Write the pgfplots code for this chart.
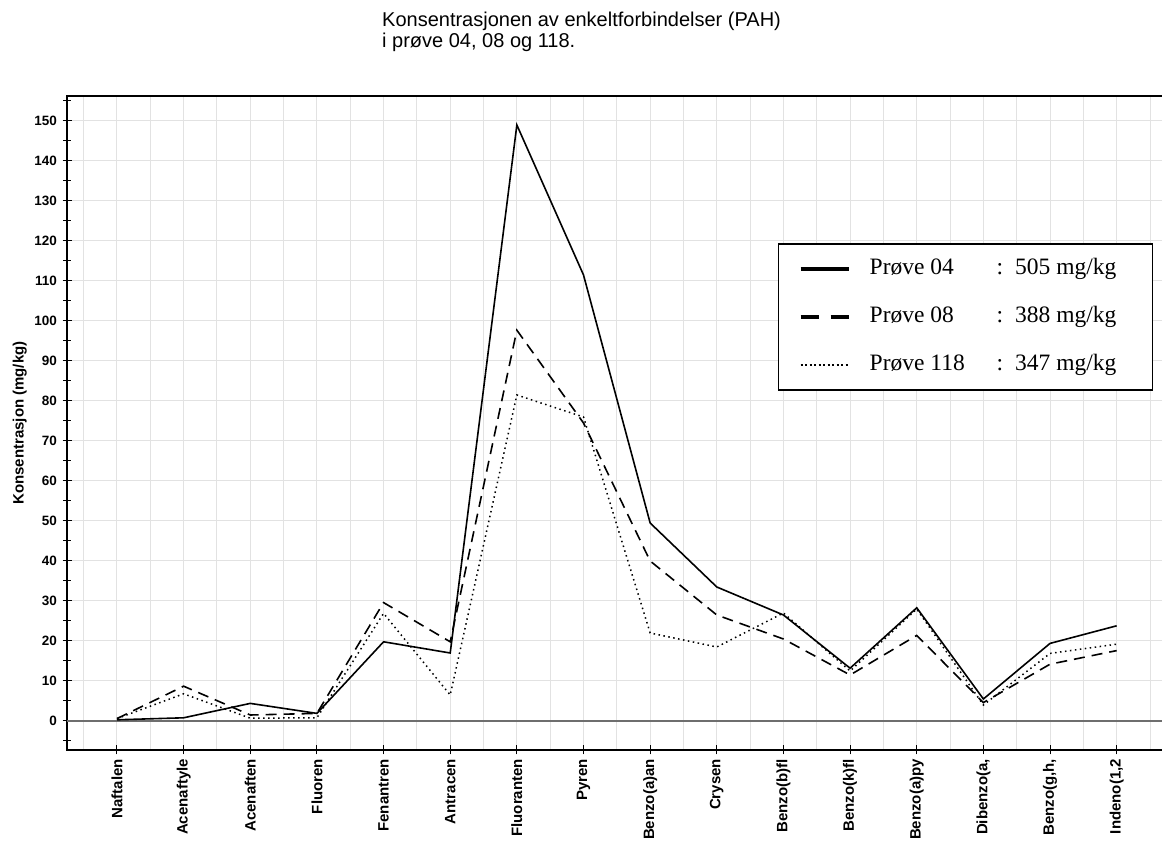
\documentclass[border=0pt]{standalone}
\usepackage{pgfplots}
\pgfplotsset{compat=1.18}
\usepackage{fontspec}
\setmainfont{Liberation Sans}
\newfontfamily\serif{Liberation Serif}
\definecolor{gridc}{RGB}{226,226,226}
\definecolor{zeroc}{RGB}{110,110,110}
\begin{document}
\begin{tikzpicture}
\useasboundingbox (0,0) rectangle (1162pt,843pt);
\node[anchor=base west,inner sep=0pt,font=\fontsize{20}{22}\selectfont] at (382pt,816pt) {Konsentrasjonen av enkeltforbindelser (PAH)};
\node[anchor=base west,inner sep=0pt,font=\fontsize{20}{22}\selectfont] at (382pt,795pt) {i prøve 04, 08 og 118.};
\begin{axis}[
  at={(67pt,93pt)}, anchor=south west,
  scale only axis, width=1096pt, height=654pt,
  xmin=-0.75, xmax=15.695, ymin=-7.25, ymax=156.25,
  xtick={0,...,15},
  xticklabels={{Naftalen},{Acenaftyle},{Acenaften},{Fluoren},{Fenantren},{Antracen},{Fluoranten},{Pyren},{Benzo(a)an},{Crysen},{Benzo(b)fl},{Benzo(k)fl},{Benzo(a)py},{Dibenzo(a,},{Benzo(g,h,},{Indeno(1,2}},
  minor xtick={-0.5,0.5,...,15.5},
  ytick={0,10,...,150},
  minor ytick={-5,5,...,155},
  xtick pos=bottom, ytick pos=left,
  xmajorgrids, xminorgrids, ymajorgrids,
  major grid style={gridc, line width=1pt},
  minor grid style={gridc, line width=1pt},
  minor x tick style={draw=none},
  tick align=center,
  major tick length=9pt, minor tick length=8pt,
  tick style={black, line width=1pt},
  axis line style={black, line width=1.2pt},
  /pgf/number format/assume math mode=true,
  yticklabel style={font=\fontsize{13.5}{15}\selectfont\bfseries, xshift=-2pt},
  xticklabel style={font=\fontsize{15}{17}\selectfont\bfseries, rotate=90, anchor=east, xshift=-1pt},
  ylabel={Konsentrasjon (mg/kg)},
  ylabel style={font=\fontsize{15}{17}\selectfont\bfseries, at={(axis description cs:-0.043,0.5)}, anchor=center},
  legend style={at={(axis description cs:0.6487,0.775)}, anchor=north west, draw=black, line width=1.5pt,
    font=\serif\fontsize{23.5}{26}\selectfont, inner xsep=20pt, inner ysep=14pt, row sep=26pt,
    nodes={inner sep=0pt, text height=17pt, text depth=5pt}},
  legend cell align=left,
]
\addplot[zeroc, line width=2pt, forget plot] coordinates {(-0.75,0) (15.695,0)};
\addplot[black, line width=1.6pt, legend image code/.code={\draw[black,line width=4pt] (0pt,0pt) -- (48pt,0pt);}] coordinates {
(0,0.3) (1,0.8) (2,4.4) (3,1.9) (4,19.8) (5,17.0) (6,149.0) (7,111.5) (8,49.5) (9,33.5) (10,26.5) (11,13.2) (12,28.3) (13,5.5) (14,19.4) (15,23.8)};
\addlegendentry{\hspace{19pt}\makebox[263pt][l]{\makebox[127pt][l]{Prøve 04}:\hspace{12pt}505 mg/kg}}
\addplot[black, line width=1.6pt, dash pattern=on 11pt off 7pt, legend image code/.code={\draw[black,line width=4pt,dash pattern=on 18pt off 12pt] (0pt,0pt) -- (48pt,0pt);}] coordinates {
(0,0.6) (1,8.7) (2,1.5) (3,1.9) (4,29.6) (5,19.8) (6,97.7) (7,74.5) (8,40.0) (9,26.5) (10,20.5) (11,11.5) (12,21.4) (13,4.6) (14,14.2) (15,17.6)};
\addlegendentry{\hspace{19pt}\makebox[263pt][l]{\makebox[127pt][l]{Prøve 08}:\hspace{12pt}388 mg/kg}}
\addplot[black, line width=1.5pt, dash pattern=on 1.5pt off 3.5pt, legend image code/.code={\draw[black,line width=2pt,dash pattern=on 2pt off 2.5pt] (0pt,0pt) -- (48pt,0pt);}] coordinates {
(0,0.6) (1,6.8) (2,0.7) (3,0.8) (4,26.9) (5,6.5) (6,81.5) (7,76.0) (8,22.0) (9,18.5) (10,27.0) (11,12.5) (12,28.0) (13,4.0) (14,16.9) (15,19.2)};
\addlegendentry{\hspace{19pt}\makebox[263pt][l]{\makebox[127pt][l]{Prøve 118}:\hspace{12pt}347 mg/kg}}
\end{axis}
\end{tikzpicture}
\end{document}
